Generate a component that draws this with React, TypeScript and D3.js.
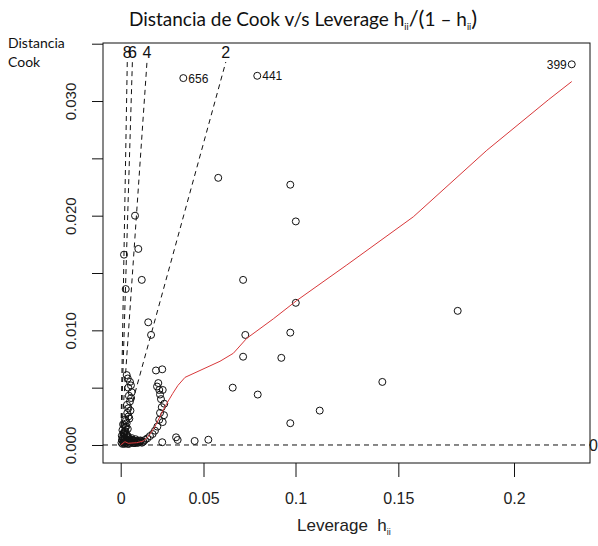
import { useEffect, useRef } from 'react';
import * as d3 from 'd3';

// x = leverage ratio h/(1-h), y = Cook's distance
const pointRatio = [
  0.0620, 0.1078, 0.1113, 0.0778, 0.1113, 0.2142, 0.0792, 0.1078, 0.0778, 0.1021,
  0.0712, 0.0871, 0.1663, 0.1265, 0.1078, 0.0470, 0.0557, 0.0352, 0.0362, 0.0264,
  0.0091, 0.0112, 0.0021, 0.0134, 0.0032, 0.0175, 0.0193,
  0.0224, 0.0264, 0.0239, 0.0245, 0.0267, 0.0256, 0.0261, 0.0277, 0.0250, 0.0275,
  0.0245, 0.0267, 0.0233, 0.0218, 0.0203, 0.0186, 0.0169, 0.0154, 0.0144, 0.0250, 0.0231,
  0.0038, 0.0059, 0.0048, 0.0070, 0.0059, 0.0048, 0.0042, 0.0055, 0.0038, 0.0034, 0.0027,
  0.0045, 0.0065, 0.0052, 0.0066, 0.0040, 0.0062, 0.0050, 0.0033, 0.0045, 0.0036,
  0.0005, 0.0008, 0.0015, 0.0021, 0.0018, 0.0027, 0.0034, 0.0040, 0.0046, 0.0053,
  0.0059, 0.0065, 0.0072, 0.0078, 0.0085, 0.0091, 0.0097, 0.0104, 0.0110, 0.0120,
  0.0129, 0.0011, 0.0024, 0.0043, 0.0021, 0.0011, 0.0030, 0.0015, 0.0027,
  0.0012, 0.0020, 0.0030, 0.0038, 0.0050, 0.0062, 0.0070, 0.0080, 0.0088, 0.0095,
  0.0101, 0.0112, 0.0125, 0.0135, 0.0007, 0.0025, 0.0044, 0.0056, 0.0017, 0.0031,
];
const pointCook = [
  0.0233, 0.0227, 0.0195, 0.0144, 0.0124, 0.0117, 0.0096, 0.0098, 0.0077, 0.0076,
  0.0050, 0.0044, 0.0055, 0.0030, 0.0019, 0.00035, 0.00046, 0.00067, 0.00044, 0.00024,
  0.0200, 0.0171, 0.0166, 0.0144, 0.0136, 0.0107, 0.0096,
  0.0065, 0.0066, 0.0054, 0.0048, 0.0048, 0.0040, 0.0033, 0.0036, 0.0028, 0.0026,
  0.0022, 0.0020, 0.0016, 0.00125, 0.00096, 0.00078, 0.00058, 0.00044, 0.00029, 0.0044, 0.0051,
  0.0061, 0.0055, 0.0050, 0.0046, 0.0038, 0.0032, 0.0028, 0.0023, 0.0019, 0.0016, 0.0012,
  0.0058, 0.0052, 0.0043, 0.0041, 0.0035, 0.0030, 0.0025, 0.0021, 0.0014, 0.0009,
  0.0002, 0.00044, 0.0007, 0.0009, 0.00026, 0.0005, 0.00017, 0.0007, 0.00035, 0.0001,
  0.0005, 0.00026, 0.00044, 0.00017, 0.00035, 0.00017, 0.00035, 0.0002, 0.00035, 0.00026,
  0.00035, 0.0001, 0.0001, 0.0001, 0.0011, 0.0013, 0.0015, 0.0018, 0.0022,
  0.0004, 0.0002, 0.0003, 0.0005, 0.0006, 0.0003, 0.0006, 0.0004, 0.0002, 0.0005,
  0.0003, 0.0002, 0.0004, 0.0002, 0.0008, 0.0006, 0.0008, 0.0002, 0.0010, 0.0012,
];

// identified observations
const labelNames = ['656', '441', '399'];
const labelRatio = [0.0398, 0.0868, 0.2867];
const labelCook = [0.0320, 0.0322, 0.0332];

// red smoother
const smoothRatio = [
  0, 0.0027, 0.0048, 0.0102, 0.0144, 0.0175, 0.0218, 0.0261, 0.0292, 0.0331, 0.0364,
  0.0409, 0.0504, 0.0631, 0.0716, 0.0801, 0.0970, 0.1119, 0.1437, 0.1860, 0.2327, 0.2718, 0.2867,
];
const smoothCook = [
  0, 0.00029, 0.00015, 0.0002, 0.00035, 0.00072, 0.0016, 0.0028, 0.0036, 0.0045, 0.0052,
  0.0059, 0.0065, 0.0073, 0.0080, 0.0093, 0.0110, 0.0126, 0.0157, 0.0199, 0.0257, 0.0301, 0.0317,
];

// contour levels of sqrt(p * D / ratio)
const contourLevels = [0, 2, 4, 6, 8];
const nParams = 8;

const xTickLeverage = [0, 0.05, 0.1, 0.15, 0.2];
const yTicks = [0, 0.005, 0.01, 0.015, 0.02, 0.025, 0.03, 0.035];
const yTickLabels = ['0.000', '', '0.010', '', '0.020', '', '0.030', ''];

const App = () => {
  const ref = useRef<SVGSVGElement>(null);

  useEffect(() => {
    const width = 598;
    const height = 546;
    const left = 103, right = 590, top = 43, bottom = 463;
    const rFont = '"Liberation Sans", Arial, sans-serif';
    const wFont = 'Lato, "Open Sans", sans-serif';

    const svg = d3.select(ref.current);
    svg.selectAll('*').remove();
    svg.attr('width', width).attr('height', height);

    const x = d3.scaleLinear().domain([-0.01125, 0.2983]).range([left, right]);
    const y = d3.scaleLinear().domain([-0.00157, 0.03506]).range([bottom, top]);

    svg.append('rect').attr('width', width).attr('height', height).attr('fill', '#fff');

    // title
    const title = svg.append('text')
      .attr('x', 303).attr('y', 26)
      .attr('text-anchor', 'middle')
      .style('font-family', wFont).style('font-size', '19px')
      .attr('fill', '#111');
    title.append('tspan').text('Distancia de Cook v/s Leverage h');
    title.append('tspan').style('font-size', '9px').attr('dy', 4).text('ii');
    title.append('tspan').attr('dy', -4).style('font-size', '22px').text('/(');
    title.append('tspan').text('1 – h');
    title.append('tspan').style('font-size', '9px').attr('dy', 4).text('ii');
    title.append('tspan').attr('dy', -4).style('font-size', '22px').text(')');

    const yl = svg.append('g').style('font-family', wFont).style('font-size', '14px').attr('fill', '#111');
    yl.append('text').attr('x', 8).attr('y', 48).text('Distancia');
    yl.append('text').attr('x', 8).attr('y', 67).text('Cook');

    // axes
    const xAxis = svg.append('g')
      .attr('transform', `translate(0, ${bottom})`)
      .call(d3.axisBottom(x)
        .tickValues(xTickLeverage.map(h => h / (1 - h)))
        .tickFormat((d, i) => String(xTickLeverage[i]))
        .tickSize(14)
        .tickPadding(16));
    xAxis.select('.domain').remove();
    xAxis.selectAll('line').attr('stroke', '#111');
    xAxis.selectAll('text').style('font-family', rFont).style('font-size', '16px').attr('fill', '#222');

    const yAxis = svg.append('g')
      .attr('transform', `translate(${left}, 0)`)
      .call(d3.axisLeft(y)
        .tickValues(yTicks)
        .tickFormat((d, i) => yTickLabels[i])
        .tickSize(11));
    yAxis.select('.domain').remove();
    yAxis.selectAll('line').attr('stroke', '#111');
    yAxis.selectAll('text')
      .attr('transform', 'rotate(-90)')
      .attr('x', 0).attr('y', -27).attr('dy', 0)
      .attr('text-anchor', 'middle')
      .style('font-family', rFont).style('font-size', '15px').attr('fill', '#222');

    const xl = svg.append('text')
      .attr('x', 297).attr('y', 531)
      .style('font-family', rFont).style('font-size', '17px').attr('fill', '#222');
    xl.append('tspan').text('Leverage\u00a0\u00a0h');
    xl.append('tspan').style('font-size', '9px').attr('dy', 4).text('ii');

    // contour lines
    const lineTopY = 62;
    const cTop = y.invert(lineTopY);
    contourLevels.forEach(b => {
      if (b === 0) {
        svg.append('line')
          .attr('x1', left).attr('x2', right)
          .attr('y1', y(0)).attr('y2', y(0))
          .attr('stroke', '#111').attr('stroke-dasharray', '5,4');
        svg.append('text').attr('x', 589).attr('y', y(0) + 6)
          .style('font-family', rFont).style('font-size', '16px').attr('fill', '#222')
          .text(String(b));
        return;
      }
      const slope = (b * b) / nParams;
      const gEnd = cTop / slope;
      svg.append('line')
        .attr('x1', x(0)).attr('y1', y(0))
        .attr('x2', x(gEnd)).attr('y2', lineTopY)
        .attr('stroke', '#111').attr('stroke-dasharray', '5,4');
      svg.append('text').attr('x', x(gEnd)).attr('y', 58).attr('text-anchor', 'middle')
        .style('font-family', rFont).style('font-size', '16px').attr('fill', '#111')
        .text(String(b));
    });

    // points
    svg.append('g').selectAll('circle')
      .data(pointRatio.map((g, i) => [g, pointCook[i]]))
      .enter()
      .append('circle')
      .attr('cx', d => x(d[0]))
      .attr('cy', d => y(d[1]))
      .attr('r', 3.5)
      .attr('fill', 'none')
      .attr('stroke', '#111')
      .attr('stroke-width', 1);

    const lab = svg.append('g');
    labelNames.forEach((name, i) => {
      lab.append('circle')
        .attr('cx', x(labelRatio[i])).attr('cy', y(labelCook[i]))
        .attr('r', 3.5).attr('fill', 'none').attr('stroke', '#111');
      const last = i === labelNames.length - 1;
      lab.append('text')
        .attr('x', x(labelRatio[i]) + (last ? -5 : 5))
        .attr('y', y(labelCook[i]) + 4.5)
        .attr('text-anchor', last ? 'end' : 'start')
        .style('font-family', rFont).style('font-size', '12px').attr('fill', '#111')
        .text(name);
    });

    // smoother
    const line = d3.line<number>()
      .x((d, i) => x(smoothRatio[i]))
      .y(d => y(d));
    svg.append('path')
      .datum(smoothCook)
      .attr('d', line)
      .attr('fill', 'none')
      .attr('stroke', '#d8383a')
      .attr('stroke-width', 1);

    // box
    svg.append('rect')
      .attr('x', left).attr('y', top)
      .attr('width', right - left).attr('height', bottom - top)
      .attr('fill', 'none').attr('stroke', '#111').attr('stroke-width', 1);
  }, []);

  return (
    <svg ref={ref} style={{ position: 'absolute', left: 0, top: 0, display: 'block' }}></svg>
  );
};

export default App;
